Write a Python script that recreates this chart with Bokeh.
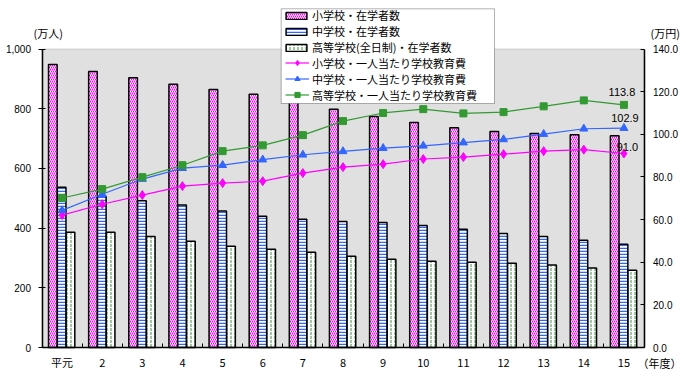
from bokeh.plotting import figure
from bokeh.models import (Range1d, LinearAxis, FixedTicker, Legend, LegendItem,
                          Label, NumeralTickFormatter, BoxAnnotation)
from bokeh.embed import file_html
from bokeh.resources import INLINE

# ---- data ----
years = ["平元", "2", "3", "4", "5", "6", "7", "8", "9", "10", "11", "12", "13", "14", "15"]
elem_students = [948, 925, 904, 882, 864, 848, 825, 798, 774, 754, 736, 724, 717, 713, 709]
middle_students = [537, 507, 492, 477, 457, 440, 430, 422, 419, 409, 396, 382, 372, 359, 346]
high_students = [386, 386, 372, 356, 339, 329, 319, 306, 296, 289, 286, 282, 276, 266, 259]
elem_cost = [62.1, 67.2, 71.5, 75.7, 77.1, 78.0, 81.8, 84.6, 86.0, 88.4, 89.3, 90.7, 92.1, 92.8, 91.0]
middle_cost = [64.3, 71.9, 79.0, 84.1, 85.5, 88.1, 90.4, 92.0, 93.5, 94.6, 96.1, 97.6, 100.1, 102.6, 102.9]
high_cost = [70.1, 74.3, 79.9, 85.5, 92.1, 94.8, 99.6, 106.2, 110.0, 111.8, 109.8, 110.4, 113.1, 115.9, 113.8]
left_ticks = [0, 200, 400, 600, 800, 1000]
right_ticks = [0, 20, 40, 60, 80, 100, 120, 140]
series_names = ["小学校・在学者数", "中学校・在学者数", "高等学校(全日制)・在学者数",
                "小学校・一人当たり学校教育費", "中学校・一人当たり学校教育費",
                "高等学校・一人当たり学校教育費"]
unit_left = "(万人)"
unit_right = "(万円)"
unit_x = "（年度）"

n = len(years)
centers = [i + 0.5 for i in range(n)]

# ---- layout (pixels) ----
W, H = 688, 374
PX_L, PX_R, PX_T, PX_B = 41.5, 643.5, 48.5, 347.0
kx = (PX_R - PX_L) / n
ky = (PX_B - PX_T) / left_ticks[-1]
kc = (PX_B - PX_T) / right_ticks[-1]


def dx(px):
    return (px - PX_L) / kx


def dy(py):
    return (PX_B - py) / ky


MAG = "#ff00ff"
BLU = "#3366ff"
GRN = "#339933"
NUMFONT = "Liberation Sans"
JPFONT = "Noto Sans CJK JP"

p = figure(width=W, height=H, output_backend="svg", toolbar_location=None,
           x_range=Range1d(-PX_L / kx, (W - PX_L) / kx),
           y_range=Range1d(-(H - PX_B) / ky, PX_B / ky),
           min_border_left=0, min_border_right=0, min_border_top=0, min_border_bottom=0)
p.extra_y_ranges = {"cost": Range1d(-(H - PX_B) / kc, PX_B / kc)}
p.background_fill_color = "white"
p.border_fill_color = "white"
p.outline_line_color = None
p.grid.visible = False

# plot area background
p.add_layout(BoxAnnotation(left=0, right=n, bottom=0, top=left_ticks[-1],
                           fill_color="#e0e0e0", fill_alpha=1,
                           line_color="#888888", line_width=1, level="underlay"))

# left axis
ya = p.yaxis[0]
ya.fixed_location = 0
ya.bounds = (left_ticks[0], left_ticks[-1])
ya.ticker = FixedTicker(ticks=left_ticks)
ya.formatter = NumeralTickFormatter(format="0,0")
ya.major_tick_in = 3
ya.major_tick_out = 4
ya.minor_tick_line_color = None
ya.axis_line_width = 1.5
ya.major_label_standoff = 7
ya.major_label_text_font = NUMFONT
ya.major_label_text_font_size = "10px"
ya.major_label_text_color = "black"

# right axis
ra = LinearAxis(y_range_name="cost", ticker=FixedTicker(ticks=right_ticks),
                formatter=NumeralTickFormatter(format="0.0"), fixed_location=n,
                bounds=(right_ticks[0], right_ticks[-1]))
ra.major_tick_in = 4
ra.major_tick_out = 0
ra.minor_tick_line_color = None
ra.axis_line_width = 1.5
ra.major_label_standoff = 9
ra.major_label_text_font = NUMFONT
ra.major_label_text_font_size = "10px"
ra.major_label_text_color = "black"
p.add_layout(ra, "right")

# x axis
xa = p.xaxis[0]
xa.fixed_location = 0
xa.bounds = (0, n)
xa.ticker = FixedTicker(ticks=centers, minor_ticks=list(range(1, n)))
xa.major_label_overrides = {c: y for c, y in zip(centers, years)}
xa.major_tick_line_color = None
xa.major_tick_in = 0
xa.major_tick_out = 0
xa.minor_tick_in = 4
xa.minor_tick_out = 0
xa.minor_tick_line_color = "black"
xa.axis_line_width = 1.5
xa.major_label_standoff = 6
xa.major_label_text_font = JPFONT
xa.major_label_text_font_size = "11px"
xa.major_label_text_color = "black"

# bars
bw = 0.215
r1 = p.vbar(x=[c - 0.23 for c in centers], top=elem_students, width=bw, bottom=0,
            fill_color="white", line_color="black", line_width=1.5,
            hatch_pattern="\\", hatch_color=MAG, hatch_scale=4, hatch_weight=1)
r2 = p.vbar(x=[c - 0.01 for c in centers], top=middle_students, width=bw, bottom=0,
            fill_color="white", line_color="black", line_width=1.5,
            hatch_pattern="-", hatch_color=BLU, hatch_scale=3, hatch_weight=1.5)
r3 = p.vbar(x=[c + 0.21 for c in centers], top=high_students, width=bw, bottom=0,
            fill_color="white", line_color="black", line_width=1.5,
            hatch_pattern=":", hatch_color=GRN, hatch_scale=4, hatch_weight=1)

# lines
l1 = p.line(centers, elem_cost, y_range_name="cost", line_color=MAG, line_width=1.2)
m1 = p.scatter(centers, elem_cost, y_range_name="cost", marker="diamond", size=9,
               fill_color=MAG, line_color=MAG)
l2 = p.line(centers, middle_cost, y_range_name="cost", line_color=BLU, line_width=1.2)
m2 = p.scatter(centers, middle_cost, y_range_name="cost", marker="triangle", size=8,
               fill_color=BLU, line_color=BLU)
l3 = p.line(centers, high_cost, y_range_name="cost", line_color=GRN, line_width=1.2)
m3 = p.scatter(centers, high_cost, y_range_name="cost", marker="square", size=7,
               fill_color=GRN, line_color=GRN)

# end value labels
for vals, ox, oy in [(high_cost, -2, 12.5), (middle_cost, 1, 9.7), (elem_cost, 3.5, 6.7)]:
    p.add_layout(Label(x=centers[-1], y=vals[-1], y_range_name="cost", text=f"{vals[-1]:.1f}",
                       x_offset=ox, y_offset=oy, text_align="center", text_baseline="middle",
                       text_font=NUMFONT, text_font_size="11px", text_color="black"))

# unit labels
for txt, px, py in [(unit_left, 33, 32), (unit_right, 650, 32), (unit_x, 637, 362)]:
    p.add_layout(Label(x=dx(px), y=dy(py), text=txt, text_align="left", text_baseline="middle",
                       text_font=JPFONT, text_font_size="11px", text_color="black"))

# legend frame
p.add_layout(BoxAnnotation(left=dx(280.7), right=dx(494), top=dy(8.3), bottom=dy(103.0),
                           fill_color="white", fill_alpha=1, line_color="black",
                           line_width=1, level="guide"))


def make_legend(items, loc, gh, gw, standoff):
    lg = Legend(items=items, location=loc)
    lg.border_line_color = None
    lg.background_fill_alpha = 0
    lg.padding = 0
    lg.spacing = 0
    lg.margin = 0
    lg.glyph_width = gw
    lg.glyph_height = gh
    lg.label_height = 12
    lg.label_standoff = standoff
    lg.label_text_font = JPFONT
    lg.label_text_font_size = "11px"
    lg.label_text_color = "black"
    return lg


legA = make_legend([
    LegendItem(label=series_names[0], renderers=[r1]),
    LegendItem(label=series_names[1], renderers=[r2]),
    LegendItem(label=series_names[2], renderers=[r3]),
], (283, H - 55.0), 9, 26, 3)
legB = make_legend([
    LegendItem(label=series_names[3], renderers=[l1, m1]),
    LegendItem(label=series_names[4], renderers=[l2, m2]),
    LegendItem(label=series_names[5], renderers=[l3, m3]),
], (285, H - 102.5), 13, 24, 3)
p.add_layout(legA, "center")
p.add_layout(legB, "center")

open("out.html", "w").write(file_html(p, INLINE))
